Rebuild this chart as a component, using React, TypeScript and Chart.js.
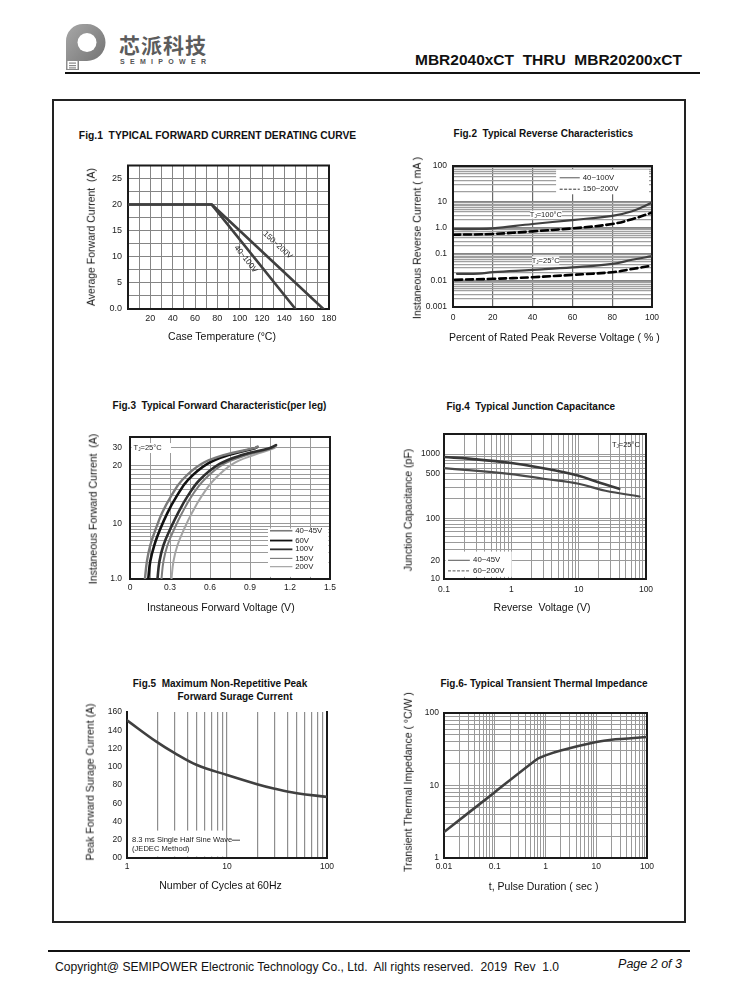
import React, { useEffect, useRef } from 'react';
import { Chart, registerables, LinearScale } from 'chart.js';

Chart.register(...registerables);

const SANS = '"Liberation Sans", Arial, Helvetica, sans-serif';
const CJK = '"Noto Sans CJK SC", "Noto Sans", sans-serif';

/* ================= DATA ================= */
// Fig.1 derating curve
const F1_TEMP_40_100 = [0, 75, 150];
const F1_AMP_40_100 = [20, 20, 0];
const F1_TEMP_150_200 = [0, 75, 175];
const F1_AMP_150_200 = [20, 20, 0];
const F1_X_LABEL_VALS = [20, 40, 60, 80, 100, 120, 140, 160, 180];
const F1_X_LABELS = ['20', '40', '60', '80', '100', '120', '140', '160', '180'];
const F1_Y_LABEL_VALS = [0, 5, 10, 15, 20, 25];
const F1_Y_LABELS = ['0.0', '5', '10', '15', '20', '25'];

// Fig.2 reverse characteristics
const F2_PCT_100C_A = [1, 13, 20, 40, 60, 80, 90, 100];
const F2_MA_100C_40_100 = [0.87, 0.87, 0.92, 1.36, 1.94, 2.85, 4.3, 9.4];
const F2_PCT_100C_B = [0, 20, 40, 60, 80, 90, 100];
const F2_MA_100C_150_200 = [0.53, 0.565, 0.71, 0.92, 1.36, 2.1, 3.8];
const F2_PCT_25C_A = [2, 13, 20, 40, 60, 80, 90, 100];
const F2_MA_25C_40_100 = [0.0178, 0.0182, 0.0205, 0.025, 0.031, 0.042, 0.06, 0.082];
const F2_PCT_25C_B = [1, 20, 40, 60, 80, 90, 100];
const F2_MA_25C_150_200 = [0.0106, 0.0116, 0.0133, 0.0163, 0.0205, 0.027, 0.0365];
const F2_X_LABEL_VALS = [0, 20, 40, 60, 80, 100];
const F2_X_LABELS = ['0', '20', '40', '60', '80', '100'];
const F2_Y_LABEL_VALS = [0.001, 0.01, 0.1, 1, 10, 100];
const F2_Y_LABELS = ['0.001', '0.01', '0.1', '1.0', '10', '100'];

// Fig.3 forward characteristic (amps vs volts)
const F3_V_40_45 = [0.112, 0.127, 0.152, 0.192, 0.241, 0.306, 0.391, 0.535, 0.709, 0.933, 0.958];
const F3_A_40_45 = [1.0, 2.1, 4.1, 8.0, 11.4, 13.8, 16.8, 20.6, 25.5, 29.8, 31.0];
const F3_V_60 = [0.137, 0.152, 0.182, 0.226, 0.281, 0.348, 0.435, 0.58, 0.746, 0.938, 0.953];
const F3_A_60 = [1.0, 2.1, 4.1, 8.0, 11.4, 13.8, 16.8, 20.6, 25.5, 29.8, 30.6];
const F3_V_100 = [0.206, 0.221, 0.251, 0.301, 0.361, 0.43, 0.522, 0.672, 0.846, 1.045, 1.095];
const F3_A_100 = [1.0, 2.1, 4.1, 8.0, 11.4, 13.8, 16.8, 20.6, 25.5, 29.8, 32.0];
const F3_V_150 = [0.236, 0.251, 0.281, 0.331, 0.391, 0.46, 0.555, 0.704, 0.883, 1.07, 1.095];
const F3_A_150 = [1.0, 2.1, 4.1, 8.0, 11.4, 13.8, 16.8, 20.6, 25.5, 29.8, 32.0];
const F3_V_200 = [0.311, 0.326, 0.356, 0.405, 0.465, 0.535, 0.629, 0.771, 0.933, 1.082, 1.095];
const F3_A_200 = [1.0, 2.1, 4.1, 8.0, 11.4, 13.8, 16.8, 20.6, 25.5, 29.8, 31.5];
const F3_X_GRID = [0, 0.15, 0.3, 0.45, 0.6, 0.75, 0.9, 1.05, 1.2, 1.35, 1.5];
const F3_X_LABEL_VALS = [0, 0.3, 0.6, 0.9, 1.2, 1.5];
const F3_X_LABELS = ['0', '0.3', '0.6', '0.9', '1.2', '1.5'];
const F3_Y_GRID = [1, 2, 3, 4, 5, 6, 7, 8, 9, 10, 11, 12, 13, 14, 15, 16, 17, 18, 19, 20, 30];
const F3_Y_LABEL_VALS = [1, 10, 20, 30];
const F3_Y_LABELS = ['1.0', '10', '20', '30'];

// Fig.4 junction capacitance
const F4_V_40_45 = [0.1, 0.25, 1, 3, 10, 20, 40];
const F4_PF_40_45 = [898, 840, 723, 600, 458, 360, 287];
const F4_V_60_200 = [0.1, 1, 3, 10, 25, 80];
const F4_PF_60_200 = [604, 487, 412, 344, 268, 218];
const F4_X_LABEL_VALS = [0.1, 1, 10, 100];
const F4_X_LABELS = ['0.1', '1', '10', '100'];
const F4_Y_LABEL_VALS = [10, 20, 100, 500, 1000];
const F4_Y_LABELS = ['10', '20', '100', '500', '1000'];

// Fig.5 surge current
const F5_CYCLES = [1, 2, 3, 5, 10, 20, 30, 50, 100];
const F5_AMPS = [151, 127, 115, 102, 91, 81, 76, 71, 67];
const F5_X_LABEL_VALS = [1, 10, 100];
const F5_X_LABELS = ['1', '10', '100'];
const F5_Y_LABEL_VALS = [0, 20, 40, 60, 80, 100, 120, 140, 160];
const F5_Y_LABELS = ['00', '20', '40', '60', '80', '100', '120', '140', '160'];

// Fig.6 transient thermal impedance
const F6_SEC = [0.01, 0.1, 0.67, 1, 2, 10, 20, 100];
const F6_CW = [2.28, 8.1, 22.9, 26.1, 30.5, 39.8, 42.9, 46.7];
const F6_X_LABEL_VALS = [0.01, 0.1, 1, 10, 100];
const F6_X_LABELS = ['0.01', '0.1', '1', '10', '100'];
const F6_Y_LABEL_VALS = [1, 10, 100];
const F6_Y_LABELS = ['1', '10', '100'];

/* ================= WARP SCALE ================= */
const WARP: Record<string, { knots: number[][]; log: boolean }> = {};

class WarpScale extends LinearScale {
  static id = 'warp';
  static defaults = LinearScale.defaults;
  frac(v: number): number {
    const w = WARP[(this.options as any).warpKey];
    if (!w) return 0;
    const f = (x: number) => (w.log ? Math.log10(Math.max(x, 1e-12)) : x);
    const k = w.knots;
    const t = f(v);
    let i = 0;
    while (i < k.length - 2 && t > f(k[i + 1][0])) i++;
    const a = f(k[i][0]);
    const b = f(k[i + 1][0]);
    return k[i][1] + ((t - a) / (b - a)) * (k[i + 1][1] - k[i][1]);
  }
  getPixelForValue(v: number) {
    const fr = this.frac(v);
    return this.isHorizontal() ? this.left + fr * this.width : this.bottom - fr * this.height;
  }
  getValueForPixel(_p: number) {
    return this.min;
  }
}
Chart.register(WarpScale as any);

function decadeGrid(lo: number, hi: number): number[] {
  const out: number[] = [];
  for (let e = Math.floor(Math.log10(lo)); e <= Math.ceil(Math.log10(hi)); e++) {
    for (let m = 1; m <= 9; m++) {
      const v = +(m * Math.pow(10, e)).toPrecision(6);
      if (v >= lo * 0.9999 && v <= hi * 1.0001) out.push(v);
    }
  }
  return out;
}

interface AxisSpec {
  key: string;
  knots: number[][];
  log: boolean;
  grid: number[];
  labelVals: number[];
  labels: string[];
  color?: (v: number) => string;
  width?: number;
  showGrid?: boolean;
  font: number;
  pad: number;
}

function axis(a: AxisSpec, horizontal: boolean) {
  WARP[a.key] = { knots: a.knots, log: a.log };
  const labelFor = (v: number) => {
    const i = a.labelVals.findIndex((l) => Math.abs(l - v) <= 1e-7 * Math.max(1, Math.abs(l)));
    return i >= 0 ? a.labels[i] : '';
  };
  return {
    type: 'warp',
    warpKey: a.key,
    position: horizontal ? 'bottom' : 'left',
    min: a.knots[0][0],
    max: a.knots[a.knots.length - 1][0],
    bounds: 'data',
    grid: {
      display: a.showGrid !== false,
      drawTicks: false,
      color: (c: any) => (c.tick && a.color ? a.color(c.tick.value) : '#999'),
      lineWidth: a.width ?? 1,
    },
    border: { display: false },
    ticks: {
      autoSkip: false,
      maxRotation: 0,
      minRotation: 0,
      padding: a.pad,
      color: '#222',
      font: { family: SANS, size: a.font },
      callback: (v: any) => labelFor(Number(v)),
    },
    afterBuildTicks: (s: any) => {
      s.ticks = a.grid.map((v) => ({ value: v }));
    },
  };
}

function pts(xs: number[], ys: number[]) {
  return xs.map((x, i) => ({ x, y: ys[i] }));
}

function line(data: { x: number; y: number }[], color: string, width: number, dash?: number[], tension = 0.4) {
  return {
    data,
    borderColor: color,
    borderWidth: width,
    borderDash: dash || [],
    pointRadius: 0,
    fill: false,
    tension,
    cubicInterpolationMode: 'default',
    borderCapStyle: 'round',
    borderJoinStyle: 'round',
  };
}

/* ================= PLUGINS ================= */
function framePlugin(sides = 'ltrb', width = 1.8, color = '#1a1a1a') {
  return {
    id: 'frame',
    beforeDatasetsDraw(chart: any) {
      const { ctx, chartArea: a } = chart;
      ctx.save();
      ctx.strokeStyle = color;
      ctx.lineWidth = width;
      ctx.lineCap = 'square';
      ctx.beginPath();
      if (sides.includes('l')) { ctx.moveTo(a.left, a.top); ctx.lineTo(a.left, a.bottom); }
      if (sides.includes('t')) { ctx.moveTo(a.left, a.top); ctx.lineTo(a.right, a.top); }
      if (sides.includes('r')) { ctx.moveTo(a.right, a.top); ctx.lineTo(a.right, a.bottom); }
      if (sides.includes('b')) { ctx.moveTo(a.left, a.bottom); ctx.lineTo(a.right, a.bottom); }
      ctx.stroke();
      ctx.restore();
    },
  };
}

type Ov = { t: string; [k: string]: any };

function overlayPlugin(ovs: Ov[]) {
  return {
    id: 'overlay',
    afterDatasetsDraw(chart: any) {
      const { ctx, chartArea: a } = chart;
      const X = (f: number) => a.left + f * (a.right - a.left);
      const Y = (f: number) => a.top + f * (a.bottom - a.top);
      ctx.save();
      for (const o of ovs) {
        if (o.t === 'rect') {
          ctx.fillStyle = o.fill || '#fff';
          ctx.fillRect(X(o.x1), Y(o.y1), X(o.x2) - X(o.x1), Y(o.y2) - Y(o.y1));
        } else if (o.t === 'line') {
          ctx.strokeStyle = o.color;
          ctx.lineWidth = o.width;
          ctx.setLineDash(o.dash || []);
          ctx.beginPath();
          ctx.moveTo(X(o.x1), Y(o.y1));
          ctx.lineTo(X(o.x2), Y(o.y2));
          ctx.stroke();
          ctx.setLineDash([]);
        } else if (o.t === 'text') {
          ctx.save();
          ctx.translate(X(o.x), Y(o.y));
          if (o.rot) ctx.rotate((o.rot * Math.PI) / 180);
          ctx.font = `${o.size}px ${SANS}`;
          ctx.fillStyle = o.color || '#222';
          ctx.textAlign = o.align || 'left';
          ctx.textBaseline = 'middle';
          ctx.fillText(o.s, 0, 0);
          ctx.restore();
        } else if (o.t === 'tj') {
          const big = `${o.size}px ${SANS}`;
          const small = `${o.size * 0.62}px ${SANS}`;
          ctx.font = big;
          const w1 = ctx.measureText('T').width;
          const w3 = ctx.measureText(o.s).width;
          ctx.font = small;
          const w2 = ctx.measureText('J').width;
          let x = X(o.x) - (o.align === 'center' ? (w1 + w2 + w3) / 2 : o.align === 'right' ? w1 + w2 + w3 : 0);
          const y = Y(o.y);
          ctx.fillStyle = '#222';
          ctx.textAlign = 'left';
          ctx.textBaseline = 'middle';
          ctx.font = big;
          ctx.fillText('T', x, y);
          x += w1;
          ctx.font = small;
          ctx.fillText('J', x, y + o.size * 0.25);
          x += w2;
          ctx.font = big;
          ctx.fillText(o.s, x, y);
        }
      }
      ctx.restore();
    },
  };
}

/* ================= PLOT COMPONENT ================= */
const PAD_L = 44;
const PAD_T = 10;
const PAD_R = 16;
const PAD_B = 26;

function Plot({ L, T, R, B, make }: { L: number; T: number; R: number; B: number; make: () => any }) {
  const ref = useRef<HTMLCanvasElement>(null);
  const w = R - L + PAD_L + PAD_R;
  const h = B - T + PAD_T + PAD_B;
  useEffect(() => {
    const cfg = make();
    cfg.options.responsive = true;
    cfg.options.maintainAspectRatio = false;
    cfg.options.animation = false;
    cfg.options.events = [];
    cfg.options.layout = { padding: { left: 0, top: PAD_T, right: PAD_R, bottom: 0 } };
    cfg.options.plugins = { legend: { display: false }, tooltip: { enabled: false }, title: { display: false } };
    cfg.options.scales.x.afterFit = (s: any) => { s.height = PAD_B; };
    cfg.options.scales.y.afterFit = (s: any) => { s.width = PAD_L; };
    const ch = new Chart(ref.current as HTMLCanvasElement, cfg);
    return () => ch.destroy();
  }, []);
  return (
    <div style={{ position: 'absolute', left: L - PAD_L, top: T - PAD_T, width: w, height: h }}>
      <canvas ref={ref} />
    </div>
  );
}

/* ================= CHART CONFIGS ================= */
const g1 = '#858585';

function fig1() {
  return {
    type: 'line',
    data: {
      datasets: [
        line(pts(F1_TEMP_40_100, F1_AMP_40_100), '#404040', 2.6, undefined, 0),
        line(pts(F1_TEMP_150_200, F1_AMP_150_200), '#404040', 2.6, undefined, 0),
      ],
    },
    options: {
      scales: {
        x: axis({ key: 'f1x', knots: [[0, 0], [180, 1]], log: false, grid: [0, 10, 20, 30, 40, 50, 60, 70, 80, 90, 100, 110, 120, 130, 140, 150, 160, 170, 180], labelVals: F1_X_LABEL_VALS, labels: F1_X_LABELS, color: () => g1, font: 9, pad: 4 }, true),
        y: axis({ key: 'f1y', knots: [[0, 0], [27.5, 1]], log: false, grid: [0, 2.5, 5, 7.5, 10, 12.5, 15, 17.5, 20, 22.5, 25, 27.5], labelVals: F1_Y_LABEL_VALS, labels: F1_Y_LABELS, color: () => g1, font: 9, pad: 6 }, false),
      },
    },
    plugins: [
      framePlugin('ltrb', 2),
      overlayPlugin([
        { t: 'text', x: 0.745, y: 0.555, s: '150~200V', size: 8, align: 'center', rot: 43 },
        { t: 'text', x: 0.586, y: 0.652, s: '40~100V', size: 8, align: 'center', rot: 52 },
      ]),
    ],
  };
}

function fig2() {
  return {
    type: 'line',
    data: {
      datasets: [
        line(pts(F2_PCT_100C_A, F2_MA_100C_40_100), '#404040', 2.2),
        line(pts(F2_PCT_100C_B, F2_MA_100C_150_200), '#000', 2.6, [7, 4]),
        line(pts(F2_PCT_25C_A, F2_MA_25C_40_100), '#404040', 2.2),
        line(pts(F2_PCT_25C_B, F2_MA_25C_150_200), '#000', 2.6, [7, 4]),
      ],
    },
    options: {
      scales: {
        x: axis({ key: 'f2x', knots: [[0, 0], [100, 1]], log: false, grid: [0, 20, 40, 60, 80, 100], labelVals: F2_X_LABEL_VALS, labels: F2_X_LABELS, color: () => '#6a6a6a', width: 1.2, font: 8.5, pad: 6 }, true),
        y: axis({ key: 'f2y', knots: [[0.001, 0], [0.01, 0.188], [0.1, 0.377], [1, 0.565], [10, 0.746], [100, 1]], log: true, grid: decadeGrid(0.001, 100), labelVals: F2_Y_LABEL_VALS, labels: F2_Y_LABELS, color: (v) => (Math.abs(Math.log10(v) - Math.round(Math.log10(v))) < 1e-6 ? '#858585' : '#a0a0a0'), width: 1.2, font: 8.5, pad: 6 }, false),
      },
    },
    plugins: [
      framePlugin('ltrb', 2),
      overlayPlugin([
        { t: 'rect', x1: 0.518, y1: 0.025, x2: 0.985, y2: 0.2 },
        { t: 'line', x1: 0.536, y1: 0.083, x2: 0.637, y2: 0.083, color: '#555', width: 1 },
        { t: 'text', x: 0.652, y: 0.083, s: '40~100V', size: 7.8 },
        { t: 'line', x1: 0.536, y1: 0.164, x2: 0.637, y2: 0.164, color: '#333', width: 1, dash: [3, 1.5] },
        { t: 'text', x: 0.652, y: 0.164, s: '150~200V', size: 7.8 },
        { t: 'rect', x1: 0.388, y1: 0.316, x2: 0.548, y2: 0.374 },
        { t: 'tj', x: 0.467, y: 0.346, s: '=100°C', size: 7.5, align: 'center' },
        { t: 'rect', x1: 0.398, y1: 0.64, x2: 0.534, y2: 0.7 },
        { t: 'tj', x: 0.466, y: 0.67, s: '=25°C', size: 7.5, align: 'center' },
      ]),
    ],
  };
}

const F3_STYLE = [
  { c: '#7a7a7a', w: 2.4 },
  { c: '#111111', w: 2.6 },
  { c: '#2e2e2e', w: 2.6 },
  { c: '#7e7e7e', w: 2.0 },
  { c: '#a4a4a4', w: 2.0 },
];

function fig3() {
  const rows = [0.66, 0.729, 0.791, 0.855, 0.913];
  const names = ['40~45V', '60V', '100V', '150V', '200V'];
  const legend: Ov[] = [{ t: 'rect', x1: 0.69, y1: 0.645, x2: 0.992, y2: 0.985 }];
  rows.forEach((r, i) => {
    legend.push({ t: 'line', x1: 0.7, y1: r, x2: 0.812, y2: r, color: F3_STYLE[i].c, width: Math.max(1, F3_STYLE[i].w - 0.8) });
    legend.push({ t: 'text', x: 0.826, y: r, s: names[i], size: 7.8 });
  });
  return {
    type: 'line',
    data: {
      datasets: [
        line(pts(F3_V_40_45, F3_A_40_45), F3_STYLE[0].c, F3_STYLE[0].w),
        line(pts(F3_V_60, F3_A_60), F3_STYLE[1].c, F3_STYLE[1].w),
        line(pts(F3_V_100, F3_A_100), F3_STYLE[2].c, F3_STYLE[2].w),
        line(pts(F3_V_150, F3_A_150), F3_STYLE[3].c, F3_STYLE[3].w),
        line(pts(F3_V_200, F3_A_200), F3_STYLE[4].c, F3_STYLE[4].w),
      ],
    },
    options: {
      scales: {
        x: axis({ key: 'f3x', knots: [[0, 0], [1.5, 1]], log: false, grid: F3_X_GRID, labelVals: F3_X_LABEL_VALS, labels: F3_X_LABELS, color: () => '#9a9a9a', font: 8.5, pad: 4 }, true),
        y: axis({ key: 'f3y', knots: [[1, 0], [10, 0.388], [20, 0.802], [30, 0.924], [38.6, 1]], log: true, grid: F3_Y_GRID, labelVals: F3_Y_LABEL_VALS, labels: F3_Y_LABELS, color: () => '#9a9a9a', font: 8.5, pad: 8 }, false),
      },
    },
    plugins: [
      framePlugin('ltrb', 2),
      overlayPlugin([
        { t: 'rect', x1: 0.008, y1: 0.042, x2: 0.205, y2: 0.112 },
        { t: 'tj', x: 0.018, y: 0.076, s: '=25°C', size: 7.5 },
        ...legend,
      ]),
    ],
  };
}

function fig4() {
  return {
    type: 'line',
    data: {
      datasets: [
        line(pts(F4_V_40_45, F4_PF_40_45), '#3a3a3a', 2.6),
        line(pts(F4_V_60_200, F4_PF_60_200), '#4a4a4a', 2.2),
      ],
    },
    options: {
      scales: {
        x: axis({ key: 'f4x', knots: [[0.1, 0], [100, 1]], log: true, grid: decadeGrid(0.1, 100), labelVals: F4_X_LABEL_VALS, labels: F4_X_LABELS, color: () => '#9a9a9a', font: 8.5, pad: 6 }, true),
        y: axis({ key: 'f4y', knots: [[10, 0], [100, 0.4195], [1000, 0.8618], [2050, 1]], log: true, grid: decadeGrid(10, 2000), labelVals: F4_Y_LABEL_VALS, labels: F4_Y_LABELS, color: () => '#9a9a9a', font: 8.5, pad: 4 }, false),
      },
    },
    plugins: [
      framePlugin('ltrb', 2),
      overlayPlugin([
        { t: 'rect', x1: 0.008, y1: 0.811, x2: 0.335, y2: 0.985 },
        { t: 'line', x1: 0.02, y1: 0.871, x2: 0.128, y2: 0.871, color: '#555', width: 1 },
        { t: 'text', x: 0.144, y: 0.871, s: '40~45V', size: 7.8 },
        { t: 'line', x1: 0.02, y1: 0.944, x2: 0.128, y2: 0.944, color: '#555', width: 1, dash: [3, 1.5] },
        { t: 'text', x: 0.144, y: 0.944, s: '60~200V', size: 7.8 },
        { t: 'tj', x: 0.97, y: 0.074, s: '=25°C', size: 7.5, align: 'right' },
      ]),
    ],
  };
}

function fig5() {
  return {
    type: 'line',
    data: { datasets: [line(pts(F5_CYCLES, F5_AMPS), '#404040', 2.6)] },
    options: {
      scales: {
        x: axis({ key: 'f5x', knots: [[1, 0], [100, 1]], log: true, grid: decadeGrid(1, 100), labelVals: F5_X_LABEL_VALS, labels: F5_X_LABELS, color: (v) => (v === 1 ? 'rgba(0,0,0,0)' : '#8e8e8e'), width: 1.2, font: 8.5, pad: 4 }, true),
        y: axis({ key: 'f5y', knots: [[0, 0], [160, 1]], log: false, grid: [0, 20, 40, 60, 80, 100, 120, 140, 160], labelVals: F5_Y_LABEL_VALS, labels: F5_Y_LABELS, showGrid: false, font: 8.5, pad: 5 }, false),
      },
    },
    plugins: [
      framePlugin('lbr', 2),
      overlayPlugin([
        { t: 'rect', x1: 0.01, y1: 0.812, x2: 0.495, y2: 0.99 },
        { t: 'text', x: 0.025, y: 0.878, s: '8.3 ms Single Half Sine Wave', size: 7.6 },
        { t: 'line', x1: 0.525, y1: 0.878, x2: 0.565, y2: 0.878, color: '#444', width: 1 },
        { t: 'text', x: 0.025, y: 0.94, s: '(JEDEC Method)', size: 7.6 },
      ]),
    ],
  };
}

function fig6() {
  return {
    type: 'line',
    data: { datasets: [line(pts(F6_SEC, F6_CW), '#404040', 2.6, undefined, 0.25)] },
    options: {
      scales: {
        x: axis({ key: 'f6x', knots: [[0.01, 0], [100, 1]], log: true, grid: decadeGrid(0.01, 100), labelVals: F6_X_LABEL_VALS, labels: F6_X_LABELS, color: () => '#9a9a9a', font: 8.5, pad: 4 }, true),
        y: axis({ key: 'f6y', knots: [[1, 0], [100, 1]], log: true, grid: decadeGrid(1, 100), labelVals: F6_Y_LABEL_VALS, labels: F6_Y_LABELS, color: () => '#9a9a9a', font: 8.5, pad: 5 }, false),
      },
    },
    plugins: [framePlugin('ltrb', 2)],
  };
}

/* ================= TEXT ================= */
function Txt({ x, y, s, size, bold, italic, rot, anchor = 'c', color = '#111', family = SANS, ls }: {
  x: number; y: number; s: string; size: number; bold?: boolean; italic?: boolean; rot?: number;
  anchor?: 'l' | 'c' | 'r'; color?: string; family?: string; ls?: number;
}) {
  const tx = anchor === 'l' ? '0' : anchor === 'r' ? '-100%' : '-50%';
  return (
    <div
      style={{
        position: 'absolute', left: x, top: y, whiteSpace: 'pre', fontFamily: family, fontSize: size,
        fontWeight: bold ? 700 : 400, fontStyle: italic ? 'italic' : 'normal', color, lineHeight: 1,
        letterSpacing: ls, transform: `translate(${tx}, -50%)${rot ? ` rotate(${rot}deg)` : ''}`,
      }}
    >
      {s}
    </div>
  );
}

export default function App() {
  return (
    <div style={{ position: 'absolute', left: 0, top: 0, width: 738, height: 1000, background: '#fff', overflow: 'hidden' }}>
      {/* header */}
      <svg style={{ position: 'absolute', left: 66, top: 24 }} width={40} height={47} viewBox="0 0 40 47">
        <defs>
          <linearGradient id="lg" x1="0" y1="0" x2="1" y2="1">
            <stop offset="0" stopColor="#a8a8a8" />
            <stop offset="1" stopColor="#6e6e6e" />
          </linearGradient>
        </defs>
        <path d="M0 46 V17 A17 17 0 0 1 17 0 H21 A18.5 18.5 0 0 1 21 37 H13 V46 Z" fill="url(#lg)" />
        <circle cx="21" cy="18.5" r="9.5" fill="#fff" />
        <rect x="1.5" y="37" width="10" height="8" fill="#fff" />
        <rect x="3" y="38.5" width="7" height="1.2" fill="#888" />
        <rect x="3" y="41" width="7" height="1.2" fill="#888" />
        <rect x="3" y="43.3" width="7" height="1.2" fill="#888" />
      </svg>
      <Txt x={119} y={44} s="芯派科技" size={21} bold anchor="l" color="#5c5c5c" family={CJK} ls={1} />
      <Txt x={120} y={61} s="SEMIPOWER" size={7} bold anchor="l" color="#555" ls={5.3} />
      <Txt x={682} y={60} s="MBR2040xCT  THRU  MBR20200xCT" size={15.5} bold anchor="r" color="#111" />
      <div style={{ position: 'absolute', left: 65, top: 72, width: 635, height: 2, background: '#111' }} />

      {/* frame */}
      <div style={{ position: 'absolute', left: 52, top: 99, width: 634, height: 824, border: '2px solid #222', boxSizing: 'border-box' }} />

      {/* Fig 1 */}
      <Txt x={217.5} y={136} s="Fig.1  TYPICAL FORWARD CURRENT DERATING CURVE" size={10.3} bold />
      <Plot L={128} T={164} R={329} B={309} make={fig1} />
      <Txt x={91} y={237} s="Average Forward Current  (A)" size={10.5} rot={-90} />
      <Txt x={222} y={335.5} s="Case Temperature (°C)" size={10.5} />

      {/* Fig 2 */}
      <Txt x={543.3} y={134} s="Fig.2  Typical Reverse Characteristics" size={10} bold />
      <Plot L={453} T={165} R={652} B={307} make={fig2} />
      <Txt x={416.7} y={238} s="Instaneous Reverse Current ( mA )" size={10.5} rot={-90} />
      <Txt x={554.3} y={336.7} s="Percent of Rated Peak Reverse Voltage ( % )" size={10.5} />

      {/* Fig 3 */}
      <Txt x={219.5} y={406} s="Fig.3  Typical Forward Characteristic(per leg)" size={10} bold />
      <Plot L={130} T={434} R={330} B={579} make={fig3} />
      <Txt x={93.3} y={509} s="Instaneous Forward Current  (A)" size={10.5} rot={-90} />
      <Txt x={220.8} y={606.7} s="Instaneous Forward Voltage (V)" size={10.5} />

      {/* Fig 4 */}
      <Txt x={530.8} y={406.7} s="Fig.4  Typical Junction Capacitance" size={10} bold />
      <Plot L={444} T={434} R={646} B={579} make={fig4} />
      <Txt x={408} y={510} s="Junction Capacitance (pF)" size={10.5} rot={-90} />
      <Txt x={542} y={606.7} s="Reverse  Voltage (V)" size={10.5} />

      {/* Fig 5 */}
      <Txt x={220} y={684} s="Fig.5  Maximum Non-Repetitive Peak" size={10} bold />
      <Txt x={235} y={696.7} s="Forward Surage Current" size={10} bold />
      <Plot L={127} T={712} R={327} B={858} make={fig5} />
      <Txt x={90} y={781.7} s="Peak Forward Surage Current (A)" size={10.5} rot={-90} />
      <Txt x={220.5} y={885} s="Number of Cycles at 60Hz" size={10.5} />

      {/* Fig 6 */}
      <Txt x={544} y={684} s="Fig.6- Typical Transient Thermal Impedance" size={10} bold />
      <Plot L={444} T={713} R={647} B={858} make={fig6} />
      <Txt x={408.3} y={781.5} s="Transient Thermal Impedance ( °C/W )" size={10.5} rot={-90} />
      <Txt x={543.7} y={886} s="t, Pulse Duration ( sec )" size={10.5} />

      {/* footer */}
      <div style={{ position: 'absolute', left: 48, top: 950, width: 642, height: 2, background: '#111' }} />
      <Txt x={55} y={967} s="Copyright@ SEMIPOWER Electronic Technology Co., Ltd.  All rights reserved.  2019  Rev  1.0" size={12.1} anchor="l" />
      <Txt x={682} y={964} s="Page 2 of 3" size={12.5} italic anchor="r" />
    </div>
  );
}
